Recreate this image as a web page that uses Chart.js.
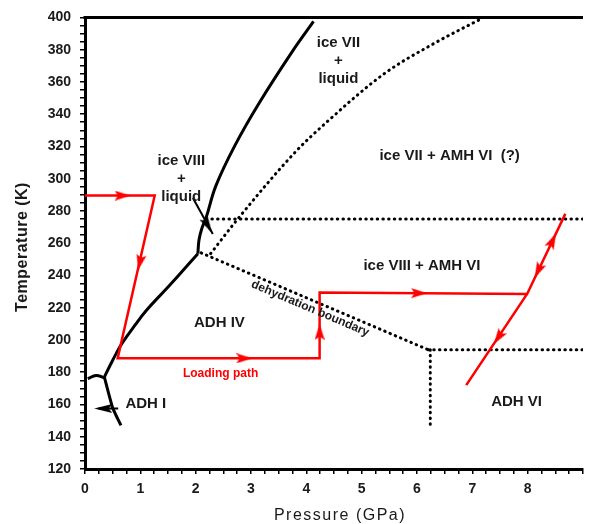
<!DOCTYPE html>
<html>
<head>
<meta charset="utf-8">
<script src="https://cdn.jsdelivr.net/npm/chart.js@4"></script>
<style>
  html, body { margin: 0; padding: 0; background: #fff; }
  #wrap { width: 590px; height: 524px; }
</style>
</head>
<body>
<div id="wrap"><canvas id="phaseChart" width="590" height="524"></canvas></div>
<script>
// axis ranges / labelled ticks
const pressureTicks = [0, 1, 2, 3, 4, 5, 6, 7, 8];
const temperatureTicks = [120, 140, 160, 180, 200, 220, 240, 260, 280, 300, 320, 340, 360, 380, 400];

// solid boundaries (P in GPa, T in K)
const adh4BoundP = [0.35, 0.45, 0.57, 0.68, 0.9, 1.1, 1.45, 1.69, 2.04];
const adh4BoundT = [177, 184, 192, 198.5, 209, 218, 231, 240, 253.5];
const meltLineP = [2.04, 2.06, 2.11, 2.19, 2.37, 2.72, 3.14, 3.73, 4.13];
const meltLineT = [253.5, 262, 269, 276, 296, 321.3, 346.5, 378, 397.5];
const adh1StemP = [0.65, 0.5, 0.35];
const adh1StemT = [147, 158, 177];
const adh1HumpP = [0.05, 0.2, 0.35];
const adh1HumpT = [176, 178, 176.5];

// dotted boundaries
const ice7LineP = [2.27, 2.72, 3.82, 4.35, 5.42, 6.31, 7.14];
const ice7LineT = [253.5, 273.3, 317.2, 334.5, 365.4, 383.9, 398.8];
const t275P = [2.19, 9];
const t275T = [275, 275];
const dehydP = [2.1, 6.2];
const dehydT = [254, 194];
const t194P = [6.2, 9];
const t194T = [194, 194];
const p62P = [6.24, 6.24];
const p62T = [194, 146];

// loading path (red) and its arrowheads
const loadP = [0, 1.26, 0.59, 4.24, 4.24, 7.99, 8.68, 7.99, 6.89];
const loadT = [289.5, 289.5, 188.6, 188.6, 229.5, 228.5, 278.2, 228.5, 172];
const arrowP = [0.68, 0.99, 2.88, 4.24, 6.04, 8.45, 8.19, 7.47];
const arrowT = [289.5, 248, 188.6, 205, 229, 261.6, 243, 201.6];
const arrowSeg = [0, 1, 2, 3, 4, 5, 6, 7];

// black pointer arrows
const pointerA = { p: [1.95, 2.31], t: [288, 265.7], headP: 2.22, headT: 271, reverse: false };
const pointerB = { p: [0.24, 0.6], t: [157.5, 157.5], headP: 0.33, headT: 157.5, reverse: true };

const regionLabels = [
  { lines: ['ice VII', '+', 'liquid'], p: 4.58, t: 384.1, size: 15, color: '#1a1a1a', rot: 0 },
  { lines: ['ice VIII', '+', 'liquid'], p: 1.74, t: 311, size: 15, color: '#1a1a1a', rot: 0 },
  { lines: ['ice VII + AMH VI  (?)'], p: 6.59, t: 314.1, size: 15, color: '#1a1a1a', rot: 0 },
  { lines: ['ice VIII + AMH VI'], p: 6.09, t: 246.1, size: 15, color: '#1a1a1a', rot: 0 },
  { lines: ['ADH IV'], p: 2.43, t: 210.9, size: 15, color: '#1a1a1a', rot: 0 },
  { lines: ['ADH I'], p: 1.1, t: 160.2, size: 15, color: '#1a1a1a', rot: 0 },
  { lines: ['ADH VI'], p: 7.8, t: 161.4, size: 15, color: '#1a1a1a', rot: 0 },
  { lines: ['Loading path'], p: 2.45, t: 179.4, size: 12, color: '#ff0000', rot: 0 },
  { lines: ['dehydration boundary'], p: 4.07, t: 219.5, size: 12, color: '#1a1a1a', rot: 23 }
];

const FONT = "'Liberation Sans', Arial, sans-serif";

const pts = (ps, ts) => ps.map((p, i) => ({ x: p, y: ts[i] }));

function makeHead(color, w, h) {
  const c = document.createElement('canvas');
  c.width = w; c.height = h;
  const g = c.getContext('2d');
  g.fillStyle = color;
  g.beginPath();
  g.moveTo(w / 2, 0);
  g.lineTo(w, h);
  g.lineTo(w / 2, h * 0.8);
  g.lineTo(0, h);
  g.closePath();
  g.fill();
  return c;
}
const redHead = makeHead('#ff0000', 10, 16);
const blackHead = makeHead('#000', 9, 18);

// heading in degrees (clockwise from up) between two data points, in pixel space
function heading(chart, x0, y0, x1, y1) {
  const xs = chart.scales.x, ys = chart.scales.y;
  const dx = xs.getPixelForValue(x1) - xs.getPixelForValue(x0);
  const dy = ys.getPixelForValue(y1) - ys.getPixelForValue(y0);
  return Math.atan2(dx, -dy) * 180 / Math.PI;
}

const solid = (data, tension) => ({ data, showLine: true, borderColor: '#000', borderWidth: 3, pointRadius: 0, tension: tension, fill: false });
const dotted = (data, curved) => ({ data, showLine: true, borderColor: '#000', borderWidth: 3, borderDash: [0.5, 5.2], borderCapStyle: 'round', pointRadius: 0, cubicInterpolationMode: curved ? 'monotone' : 'default', tension: 0, fill: false });

const datasets = [
  {
    data: pts(arrowP, arrowT),
    showLine: false,
    pointStyle: redHead,
    pointRadius: 5,
    pointRotation: (c) => {
      const s = arrowSeg[c.dataIndex];
      return heading(c.chart, loadP[s], loadT[s], loadP[s + 1], loadT[s + 1]);
    }
  },
  {
    data: [{ x: pointerA.headP, y: pointerA.headT }, { x: pointerB.headP, y: pointerB.headT }],
    showLine: false,
    pointStyle: blackHead,
    pointRadius: 5,
    pointRotation: (c) => {
      const a = c.dataIndex === 0 ? pointerA : pointerB;
      return a.reverse ? heading(c.chart, a.p[1], a.t[1], a.p[0], a.t[0])
                       : heading(c.chart, a.p[0], a.t[0], a.p[1], a.t[1]);
    }
  },
  { data: pts(loadP, loadT), showLine: true, borderColor: '#ff0000', borderWidth: 2.5, pointRadius: 0, tension: 0 },
  { data: pts(pointerA.p, pointerA.t), showLine: true, borderColor: '#000', borderWidth: 2, pointRadius: 0 },
  { data: pts(pointerB.p, pointerB.t), showLine: true, borderColor: '#000', borderWidth: 2, pointRadius: 0 },
  solid(pts(adh4BoundP, adh4BoundT), 0.4),
  solid(pts(meltLineP, meltLineT), 0.4),
  solid(pts(adh1StemP, adh1StemT), 0.2),
  solid(pts(adh1HumpP, adh1HumpT), 0.4),
  dotted(pts(ice7LineP, ice7LineT), true),
  dotted(pts(t275P, t275T)),
  dotted(pts(dehydP, dehydT)),
  dotted(pts(t194P, t194T)),
  dotted(pts(p62P, p62T))
];

const annotate = {
  id: 'annotate',
  afterDatasetsDraw(chart) {
    const ctx = chart.ctx;
    const xs = chart.scales.x, ys = chart.scales.y;
    ctx.save();
    ctx.textAlign = 'center';
    ctx.textBaseline = 'middle';
    regionLabels.forEach(l => {
      ctx.save();
      ctx.font = 'bold ' + l.size + 'px ' + FONT;
      ctx.fillStyle = l.color;
      ctx.translate(xs.getPixelForValue(l.p), ys.getPixelForValue(l.t));
      ctx.rotate(l.rot * Math.PI / 180);
      l.lines.forEach((s, i) => ctx.fillText(s, 0, i * 18));
      ctx.restore();
    });
    ctx.restore();
  },
  afterDraw(chart) {
    const ctx = chart.ctx;
    const a = chart.chartArea;
    ctx.save();
    // top frame line
    ctx.strokeStyle = '#000';
    ctx.lineWidth = 3;
    ctx.beginPath();
    ctx.moveTo(a.left - 1.5, a.top);
    ctx.lineTo(a.right, a.top);
    ctx.stroke();
    // axis titles
    ctx.fillStyle = '#1a1a1a';
    ctx.textAlign = 'center';
    ctx.textBaseline = 'middle';
    ctx.font = '16px ' + FONT;
    ctx.letterSpacing = '1.5px';
    ctx.fillText('Pressure (GPa)', 340, 516);
    ctx.letterSpacing = '0.5px';
    ctx.font = 'bold 16px ' + FONT;
    ctx.translate(22.5, 247);
    ctx.rotate(-Math.PI / 2);
    ctx.fillText('Temperature (K)', 0, 0);
    ctx.letterSpacing = '0px';
    ctx.restore();
  }
};

const tickFont = { family: FONT, size: 14, weight: 'bold' };

new Chart(document.getElementById('phaseChart').getContext('2d'), {
  type: 'scatter',
  data: { datasets },
  options: {
    responsive: false,
    animation: false,
    layout: { padding: { top: 16, right: 0, bottom: 0, left: 0 } },
    plugins: { legend: { display: false }, tooltip: { enabled: false } },
    scales: {
      x: {
        type: 'linear',
        min: 0,
        max: 9,
        afterFit: (s) => { s.height = 55; },
        border: { color: '#000', width: 3 },
        grid: { drawOnChartArea: false, drawTicks: true, tickLength: 5, color: '#000', lineWidth: 1.5 },
        ticks: {
          stepSize: 0.25,
          autoSkip: false,
          maxRotation: 0,
          padding: 7,
          color: '#1a1a1a',
          font: tickFont,
          callback: (v) => pressureTicks.includes(v) ? String(v) : ''
        }
      },
      y: {
        type: 'linear',
        min: 120,
        max: 400,
        afterFit: (s) => { s.width = 85; },
        border: { color: '#000', width: 3 },
        grid: { drawOnChartArea: false, drawTicks: true, tickLength: 5, color: '#000', lineWidth: 1.5 },
        ticks: {
          stepSize: 5,
          autoSkip: false,
          padding: 9,
          color: '#1a1a1a',
          font: tickFont,
          callback: (v) => temperatureTicks.includes(v) ? String(v) : ''
        }
      }
    }
  },
  plugins: [annotate]
});
</script>
</body>
</html>
